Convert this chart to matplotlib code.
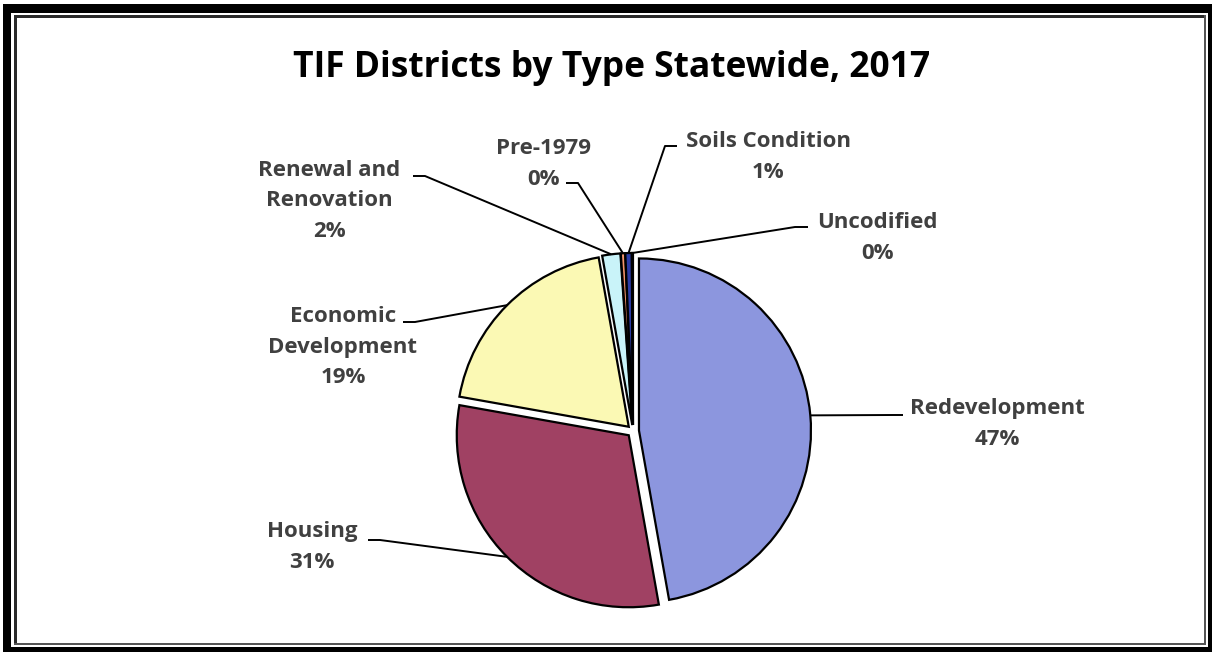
import matplotlib
matplotlib.use('Agg')
import matplotlib.pyplot as plt
from matplotlib.patches import Rectangle
import numpy as np

# ---- data ----
categories = ['Redevelopment', 'Housing', 'Economic\nDevelopment', 'Renewal and\nRenovation',
              'Pre-1979', 'Soils Condition', 'Uncodified']
values = [47.2, 30.6, 19.4, 1.7, 0.4, 0.6, 0.1]
colors = ['#8C96DE', '#A04163', '#FBF9B4', '#C9F3F9', '#F4956C', '#2B3BA6', '#FFFFFF']
title = 'TIF Districts by Type Statewide, 2017'

# ---- layout (pixel coords, image y-down) ----
W, H = 1214, 653
label_pos = [(997, 424), (312, 547), (343, 347), (329, 201), (543, 164), (768, 157), (877, 238)]
leader_seg = [(903, 893, 415), (368, 380, 540), (403, 415, 322), (413, 425, 176),
              (566, 578, 183), (677, 665, 146), (808, 795, 227)]

plt.rcParams['font.family'] = ['Open Sans', 'DejaVu Sans']
fig = plt.figure(figsize=(W / 100, H / 100), dpi=100)
ax = fig.add_axes([0, 0, 1, 1])

def Y(y):
    return H - y

wedges, _ = ax.pie(values, colors=colors, startangle=90, counterclock=False,
                   center=(633, Y(431)), radius=172, explode=[6] * len(values),
                   wedgeprops=dict(edgecolor='black', linewidth=1.6))
ax.set_xlim(0, W)
ax.set_ylim(0, H)
ax.set_aspect('auto')
ax.axis('off')

total = sum(values)
for w, cat, v, (lx, ly), (xs, xe, sy) in zip(wedges, categories, values, label_pos, leader_seg):
    mid = np.deg2rad((w.theta1 + w.theta2) / 2)
    cx, cy = w.center
    px, py = cx + w.r * np.cos(mid), cy + w.r * np.sin(mid)
    ax.plot([xs, xe, px], [Y(sy), Y(sy), py], color='black', lw=1.4, zorder=5,
            solid_capstyle='butt')
    ax.text(lx, Y(ly), f"{cat}\n{v / total * 100:.0f}%", ha='center', va='center',
            fontsize=16, fontweight='bold', color='#404040', linespacing=1.6)

ax.text(612, Y(68), title, ha='center', va='center', fontsize=25.5, fontweight='bold',
        color='black')

# ---- frame ----
def rect(x0, y0, x1, y1, c):
    ax.add_patch(Rectangle((x0, Y(y1)), x1 - x0, y1 - y0, facecolor=c, edgecolor='none',
                           zorder=10))

# outer thick
rect(3, 4, 1212, 13, 'black')
rect(3, 4, 11, 652, 'black')
rect(1208, 4, 1212, 652, 'black')
rect(3, 647, 1212, 652, 'black')
# inner thin
rect(14, 15, 1206, 18, '#2a2a2a')
rect(14, 15, 17, 645, '#2a2a2a')
rect(1204, 15, 1206, 645, '#555555')
rect(14, 643, 1206, 645, '#555555')

fig.savefig('out.png', dpi=100)
